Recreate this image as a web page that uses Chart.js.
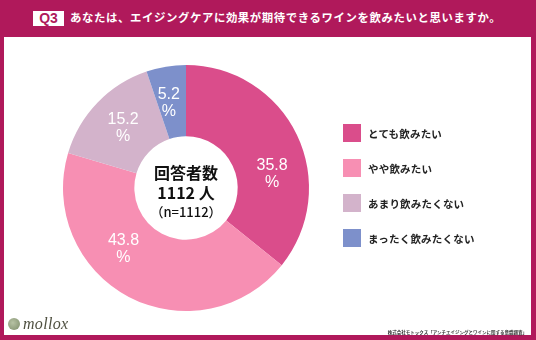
<!DOCTYPE html>
<html>
<head>
<meta charset="UTF-8">
<title>Q3 ワインの飲用意向</title>
<script src="https://cdn.jsdelivr.net/npm/chart.js"></script>
<style>
    body {
        margin: 0;
        width: 536px;
        height: 340px;
        background: #b0195b;
        position: relative;
        overflow: hidden;
        font-family: "Noto Sans CJK JP", "Noto Sans", sans-serif;
    }
    /* header band */
    .q-box {
        position: absolute;
        left: 33px;
        top: 11px;
        width: 31px;
        height: 15px;
        background: #fff;
        color: #b0195b;
        font: bold 14px "Liberation Sans", Arial, sans-serif;
        line-height: 15px;
        text-align: center;
    }
    .title {
        position: absolute;
        left: 70px;
        top: 9px;
        color: #fff;
        font-weight: bold;
        font-size: 11.4px;
        letter-spacing: 0.6px;
        line-height: 17px;
        white-space: nowrap;
    }
    .panel {
        position: absolute;
        left: 4px;
        top: 37px;
        width: 527px;
        height: 298px;
        background: #fff;
    }
    #chart {
        position: absolute;
        left: 0;
        top: 0;
    }
    .legend {
        position: absolute;
        left: 339px;
        top: 87px;
    }
    .legend-item {
        display: flex;
        align-items: center;
        height: 18px;
        margin-bottom: 17px;
        font-weight: bold;
        font-size: 10.5px;
        letter-spacing: 0.2px;
        color: #222;
    }
    .legend-item span.sw {
        width: 18px;
        height: 18px;
        margin-right: 7px;
    }
    .logo {
        position: absolute;
        left: 4px;
        top: 278px;
        display: flex;
        align-items: center;
    }
    .logo .mark {
        width: 12px;
        height: 12px;
        border-radius: 50%;
        background: radial-gradient(circle at 40% 40%, #b7c2a4, #7d8c6a);
        margin-right: 3px;
    }
    .logo .name {
        font: italic 16px "Liberation Serif", "DejaVu Serif", serif;
        color: #4f5040;
        letter-spacing: 0.3px;
    }
    .source {
        position: absolute;
        right: 4px;
        top: 292px;
        font-size: 4.5px;
        font-weight: bold;
        color: #333;
        white-space: nowrap;
    }
</style>
</head>
<body>
    <div class="q-box">Q3</div>
    <div class="title">あなたは、エイジングケアに効果が期待できるワインを飲みたいと思いますか。</div>

    <div class="panel">
        <canvas id="chart" width="527" height="298"></canvas>
        <div class="legend" id="legend"></div>
        <div class="logo"><span class="mark"></span><span class="name">mollox</span></div>
        <div class="source">株式会社モトックス「アンチエイジングとワインに関する意識調査」</div>
    </div>

<script>
    // 回答データ (%)
    const categories = ['とても飲みたい', 'やや飲みたい', 'あまり飲みたくない', 'まったく飲みたくない'];
    const percents = [35.8, 43.8, 15.2, 5.2];
    const sliceColors = ['#da4d8b', '#f78fb3', '#d3b3cb', '#7d90cb'];
    const centerLines = ['回答者数', '1112 人', '（n=1112）'];

    // 凡例
    const legendBox = document.getElementById('legend');
    categories.forEach(function (name, i) {
        const item = document.createElement('div');
        item.className = 'legend-item';
        item.innerHTML = '<span class="sw" style="background:' + sliceColors[i] + '"></span>' + name;
        legendBox.appendChild(item);
    });

    // 各スライスのラベル（数値と%を2行で）
    const sliceLabels = {
        id: 'sliceLabels',
        afterDatasetsDraw(chart, args, opts) {
            const ctx = chart.ctx;
            const meta = chart.getDatasetMeta(0);
            ctx.save();
            ctx.fillStyle = '#fff';
            ctx.font = '16px "Liberation Sans", Arial, sans-serif';
            ctx.textAlign = 'center';
            ctx.textBaseline = 'middle';
            meta.data.forEach(function (arc, i) {
                const p = arc.getProps(['x', 'y', 'startAngle', 'endAngle', 'innerRadius', 'outerRadius'], true);
                const a = (p.startAngle + p.endAngle) / 2 + (opts.nudge[i] || 0) * Math.PI / 180;
                const r = (p.innerRadius + p.outerRadius) / 2;
                const x = p.x + Math.cos(a) * r;
                const y = p.y + Math.sin(a) * r;
                ctx.fillText(chart.data.datasets[0].data[i].toFixed(1), x, y - 8);
                ctx.fillText('%', x, y + 9);
            });
            ctx.restore();
        }
    };

    // 中央のテキスト
    const centerText = {
        id: 'centerText',
        afterDraw(chart) {
            const ctx = chart.ctx;
            const arc = chart.getDatasetMeta(0).data[0];
            ctx.save();
            ctx.fillStyle = '#111';
            ctx.textAlign = 'center';
            ctx.textBaseline = 'middle';
            ctx.font = 'bold 16px "Noto Sans CJK JP", sans-serif';
            ctx.fillText(centerLines[0], arc.x, arc.y - 15);
            ctx.fillText(centerLines[1], arc.x, arc.y + 5);
            ctx.font = '500 13px "Noto Sans CJK JP", sans-serif';
            ctx.fillText(centerLines[2], arc.x, arc.y + 24);
            ctx.restore();
        }
    };

    new Chart(document.getElementById('chart'), {
        type: 'doughnut',
        data: {
            labels: categories,
            datasets: [{
                data: percents,
                backgroundColor: sliceColors,
                borderWidth: 0
            }]
        },
        options: {
            responsive: false,
            animation: false,
            devicePixelRatio: 1,
            cutout: '42%',
            layout: { padding: { left: 59, top: 28, right: 222, bottom: 24 } },
            plugins: {
                legend: { display: false },
                tooltip: { enabled: false },
                sliceLabels: { nudge: [16, 18, 0, -2] }
            }
        },
        plugins: [sliceLabels, centerText]
    });
</script>
</body>
</html>
